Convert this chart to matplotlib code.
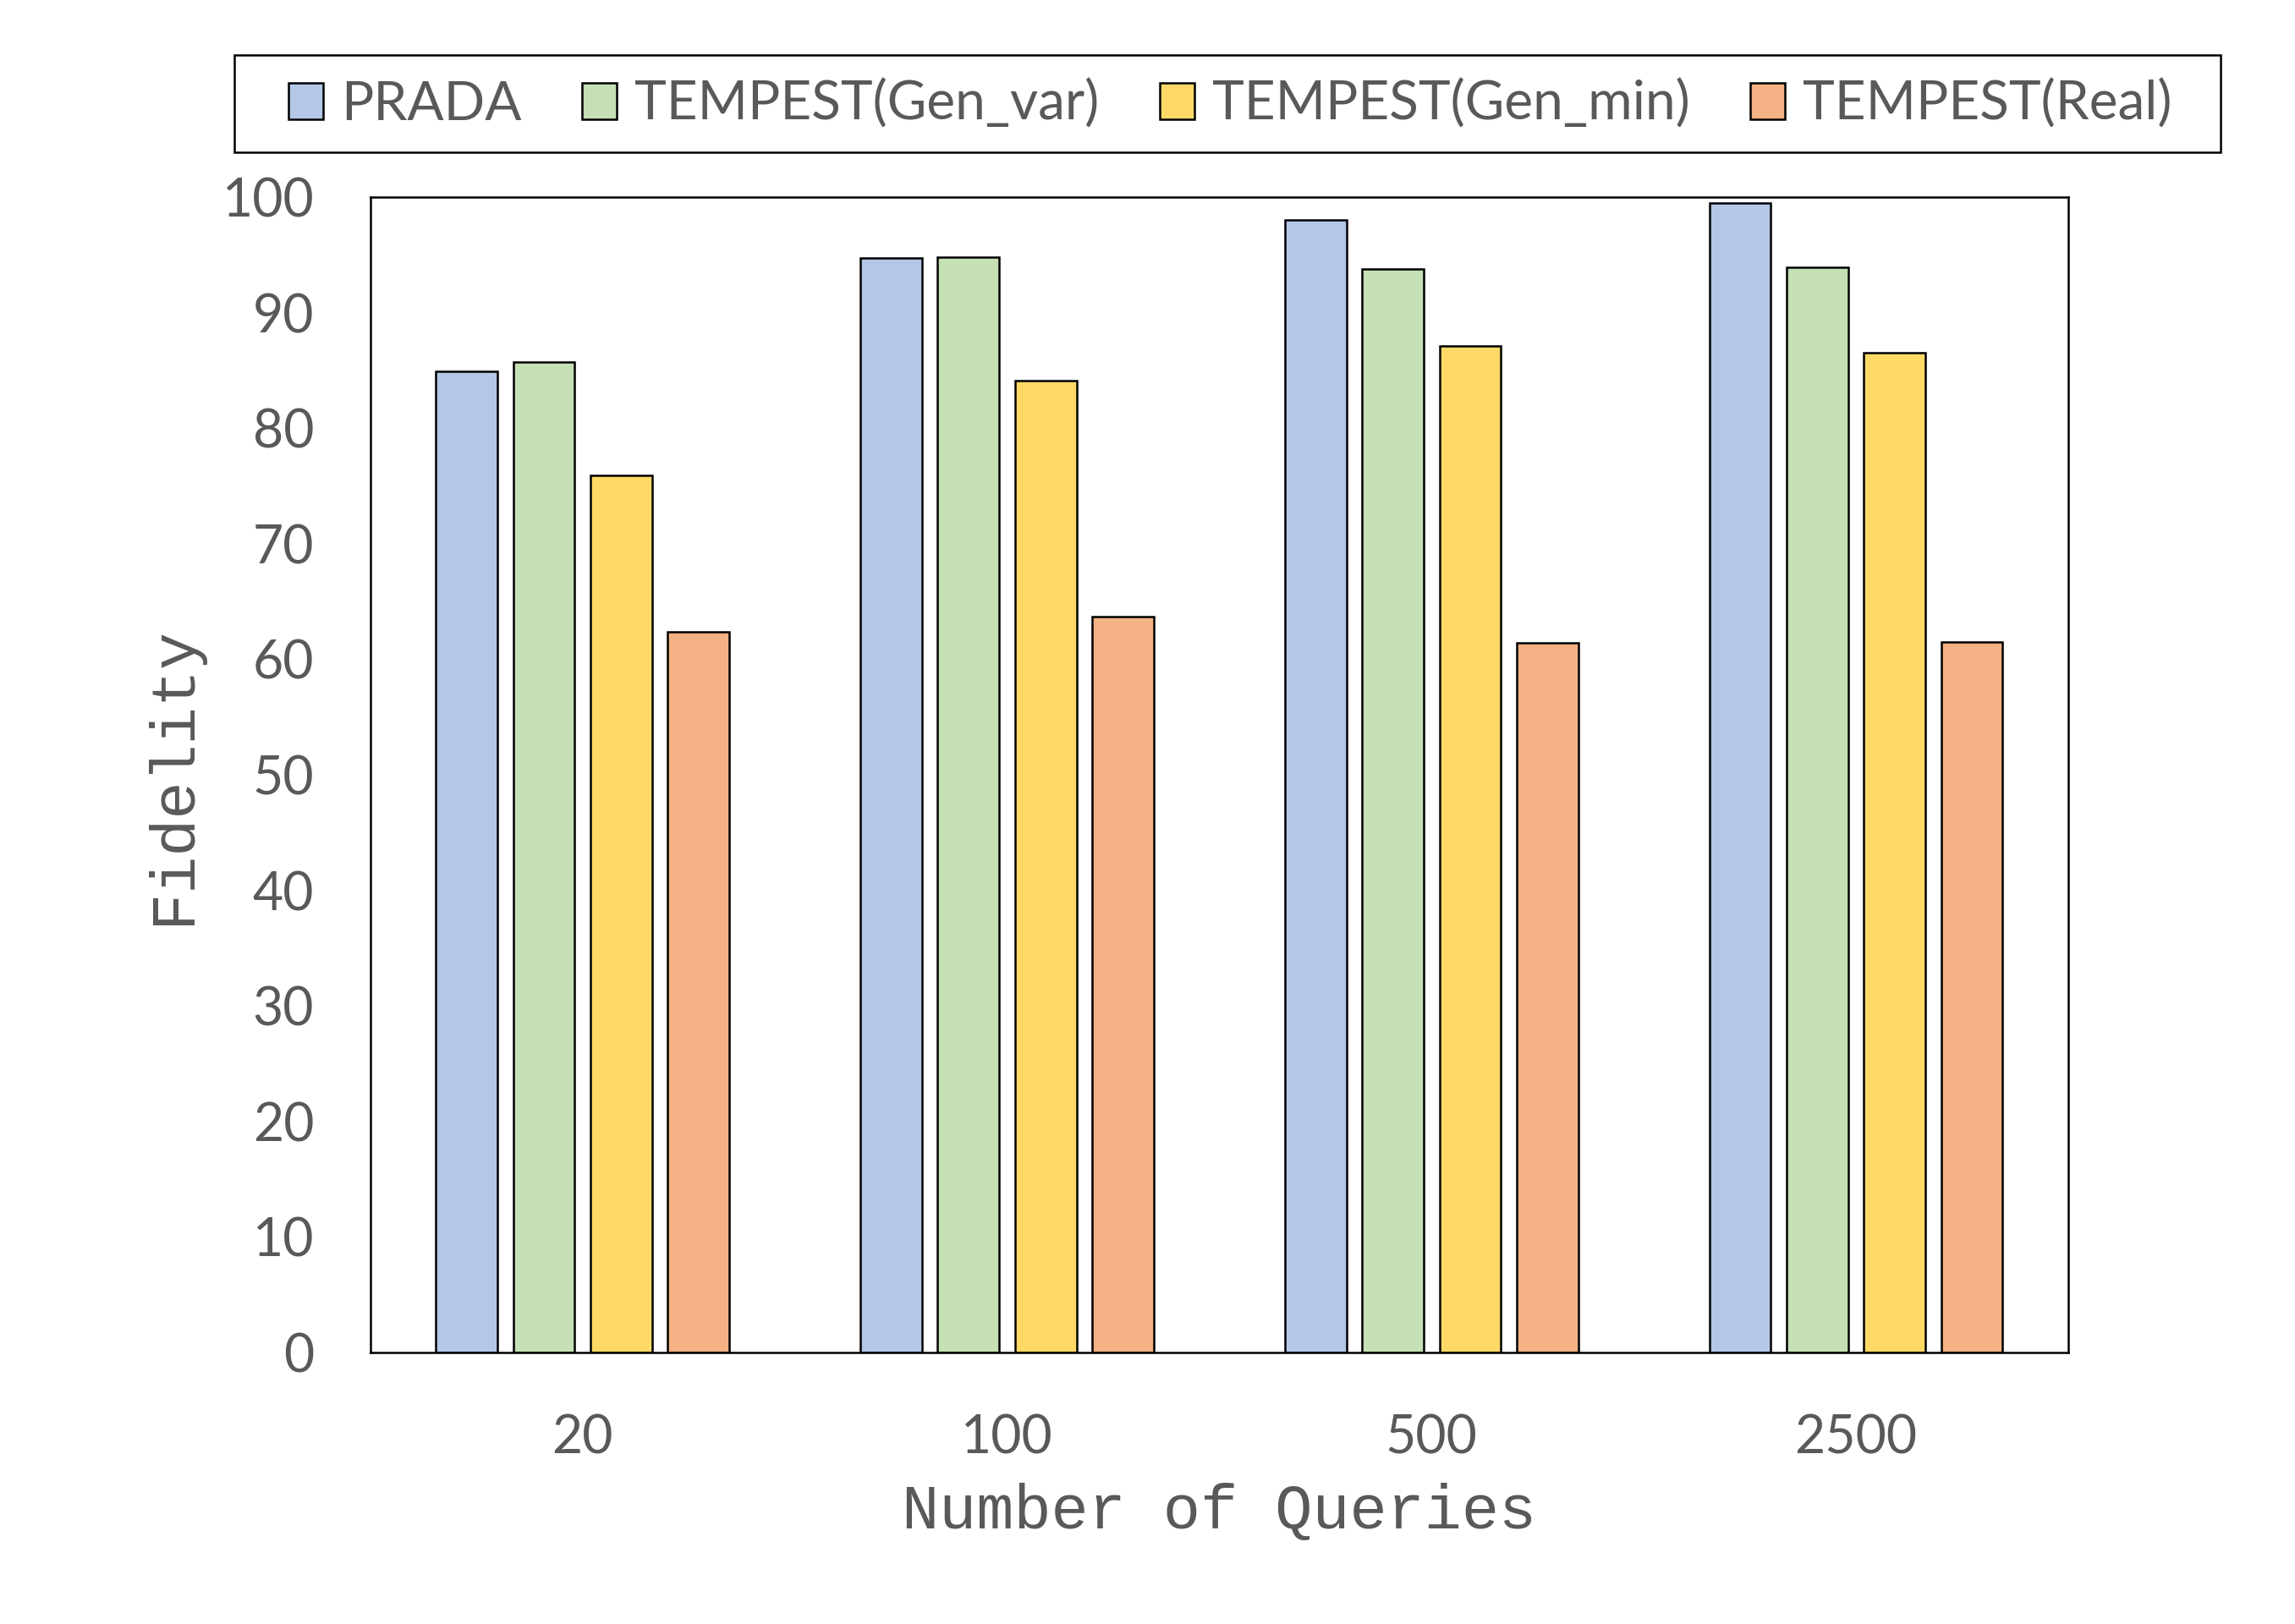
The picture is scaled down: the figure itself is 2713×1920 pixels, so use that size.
import matplotlib.pyplot as plt
import numpy as np
from matplotlib.patches import Rectangle

categories = ["20", "100", "500", "2500"]
series_names = ["PRADA", "TEMPEST(Gen_var)", "TEMPEST(Gen_min)", "TEMPEST(Real)"]
prada = [84.9, 94.7, 98.0, 99.5]
gen_var = [85.7, 94.8, 93.8, 93.9]
gen_min = [75.9, 84.1, 87.1, 86.5]
real = [62.4, 63.7, 61.4, 61.5]
colors = ["#B4C7E7", "#C5E0B4", "#FFD966", "#F4B183"]

TEXT = "#595959"
SANS = ["Lato", "DejaVu Sans"]
MONO = ["Liberation Mono", "DejaVu Sans Mono"]


def main() -> None:
    fig = plt.figure(figsize=(27.13, 19.2), dpi=100)
    ax = fig.add_axes([0.1614, 0.1672, 0.7398, 0.7114])

    x = np.arange(len(categories))
    step = 0.182
    width = 0.145
    values = [prada, gen_var, gen_min, real]
    for i, (name, vals) in enumerate(zip(series_names, values)):
        ax.bar(x + (i - 1.5) * step, vals, width, color=colors[i],
               edgecolor="black", linewidth=1.8, label=name, zorder=2)

    ax.set_xlim(-0.5, len(categories) - 0.5)
    ax.set_ylim(0, 100)
    ax.set_yticks(np.arange(0, 101, 10))
    ax.set_xticks(x)
    ax.set_xticklabels(categories)
    ax.tick_params(axis="both", length=0, labelsize=45, labelcolor=TEXT)
    ax.tick_params(axis="x", pad=52)
    ax.tick_params(axis="y", pad=48)
    for lab in ax.get_xticklabels() + ax.get_yticklabels():
        lab.set_family(SANS)
    for sp in ax.spines.values():
        sp.set_linewidth(1.8)
        sp.set_color("black")

    ax.set_xlabel("Number of Queries", family=MONO, fontsize=53, color=TEXT,
                  labelpad=17)
    ax.set_ylabel("Fidelity", family=MONO, fontsize=53, color=TEXT,
                  labelpad=17)

    # legend frame drawn separately so its size matches exactly
    fig.patches.append(Rectangle((0.1021, 0.90625), 0.8655, 0.0599,
                                 transform=fig.transFigure, fill=False,
                                 edgecolor="black", linewidth=1.8))
    handles, labels = ax.get_legend_handles_labels()
    leg = fig.legend(handles, labels, loc="center",
                     bbox_to_anchor=(0.536, 0.9357), ncol=4, frameon=False,
                     prop={"family": SANS, "size": 46},
                     handlelength=0.64, handleheight=0.64, handletextpad=0.33,
                     columnspacing=1.12, borderpad=0, borderaxespad=0)
    for t in leg.get_texts():
        t.set_color(TEXT)

    fig.savefig("out.png", dpi=100)
    plt.close(fig)


if __name__ == "__main__":
    main()
